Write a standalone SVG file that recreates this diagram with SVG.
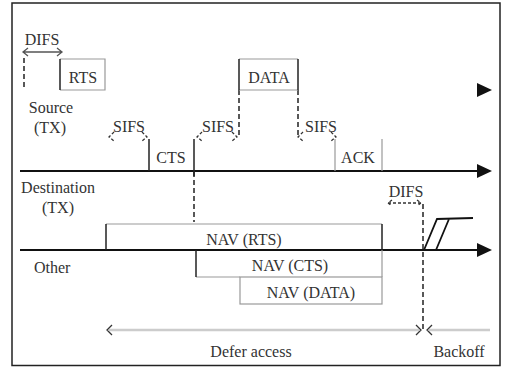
<svg xmlns="http://www.w3.org/2000/svg" width="512" height="367" viewBox="0 0 512 367">
<style>
text{font-family:"Liberation Serif","Times New Roman","DejaVu Serif",serif;font-size:16px;fill:#333}
.c{text-anchor:middle}
.tl{stroke:#111;stroke-width:2;fill:none}
.box{stroke:#999;stroke-width:1.2;fill:none}
.edge{stroke:#222;stroke-width:1.5;fill:none}
.dash{stroke:#222;stroke-width:1.5;stroke-dasharray:5,3;fill:none}
.chev{stroke:#333;stroke-width:1.3;fill:none;stroke-dasharray:3,2}
.gray{stroke:#ccc;stroke-width:2.5;fill:none}
</style>
<rect x="12" y="3" width="488" height="362.5" fill="#fff" stroke="#222" stroke-width="1.5"/>
<g id="connectors">
<polygon points="477,83 492,90 477,97" fill="#111"/>
<line class="tl" x1="20" y1="171" x2="480" y2="171"/>
<polygon points="477,164 492,171 477,178" fill="#111"/>
<line class="tl" x1="20" y1="250" x2="480" y2="250"/>
<polygon points="477,243 492,250 477,257" fill="#111"/>
<line class="dash" x1="24" y1="58" x2="24" y2="90"/>
<line class="dash" x1="239" y1="90" x2="239" y2="138"/>
<line class="dash" x1="298" y1="90" x2="298" y2="138"/>
<line class="dash" x1="194" y1="172" x2="194" y2="222"/>
<line class="dash" x1="423" y1="204" x2="423" y2="330"/>
<path d="M23,52 L62,52 M28,48 L23,52 L28,56 M57,48 L62,52 L57,56" stroke="#555" stroke-width="1.3" fill="none"/>
<path class="chev" d="M114,132 L109,137 L114,141 M142,132 L147,137 L142,141"/>
<path class="chev" d="M202,132 L197,137 L202,141 M232,132 L237,137 L232,141"/>
<path class="chev" d="M303,132 L298,137 L303,141 M331,132 L336,137 L331,141"/>
<path class="chev" d="M388,203 L421,203 M392,200 L388,203 L392,206 M417,200 L421,203 L417,206"/>
<line class="gray" x1="109" y1="330" x2="419" y2="330"/>
<line class="gray" x1="429" y1="330" x2="490" y2="330"/>
<path d="M112,325 L107,330 L112,335 M416,325 L421,330 L416,335 M432,325 L427,330 L432,335" stroke="#333" stroke-width="1.3" fill="none"/>
<path d="M424,250 L437,219 L473,218 M436,250 L449,219" stroke="#111" stroke-width="1.8" fill="none"/>
</g>
<g id="difs1"><text class="c" x="42" y="45">DIFS</text></g>
<g id="rts"><path class="box" d="M60,59 L105,59 L105,90 L60,90"/><line class="edge" x1="60" y1="59" x2="60" y2="90"/><text class="c" x="83" y="83">RTS</text></g>
<g id="data"><path class="box" d="M239,59 L298,59 M239,90 L298,90"/><line class="edge" x1="239" y1="59" x2="239" y2="90"/><line class="edge" x1="298" y1="59" x2="298" y2="90"/><text class="c" x="269" y="83">DATA</text></g>
<g id="source"><text class="c" x="51" y="113">Source</text><text class="c" x="50" y="133">(TX)</text></g>
<g id="sifs1"><text class="c" x="129" y="132">SIFS</text></g>
<g id="sifs2"><text class="c" x="218" y="132">SIFS</text></g>
<g id="sifs3"><text class="c" x="321" y="132">SIFS</text></g>
<g id="cts"><line class="edge" x1="149" y1="139" x2="149" y2="171"/><line class="edge" x1="194" y1="139" x2="194" y2="176"/><text class="c" x="171" y="163">CTS</text></g>
<g id="ack"><line class="box" x1="335" y1="139" x2="335" y2="171"/><line class="box" x1="382" y1="139" x2="382" y2="171"/><text class="c" x="358" y="163">ACK</text></g>
<g id="destination"><text class="c" x="58" y="193">Destination</text><text class="c" x="58" y="213">(TX)</text></g>
<g id="difs2"><text class="c" x="406" y="197">DIFS</text></g>
<g id="nav-rts"><path class="box" d="M106,224 L382,224"/><line class="edge" x1="106" y1="224" x2="106" y2="250"/><line class="edge" x1="382" y1="224" x2="382" y2="250"/><text class="c" x="244" y="245">NAV (RTS)</text></g>
<g id="other"><text x="34" y="273">Other</text></g>
<g id="nav-cts"><path class="box" d="M196,277 L240,277"/><line class="edge" x1="196" y1="250" x2="196" y2="277"/><line class="box" x1="382" y1="250" x2="382" y2="277"/><text class="c" x="290" y="271">NAV (CTS)</text></g>
<g id="nav-data"><rect class="box" x="240" y="277" width="142" height="27"/><text class="c" x="311" y="298">NAV (DATA)</text></g>
<g id="defer"><text class="c" x="251" y="357">Defer access</text></g>
<g id="backoff"><text class="c" x="459" y="357">Backoff</text></g>
</svg>
